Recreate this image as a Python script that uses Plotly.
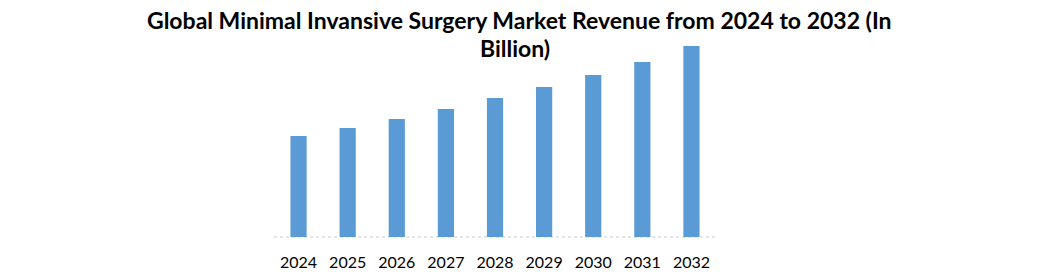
import plotly.graph_objects as go

years = ["2024", "2025", "2026", "2027", "2028", "2029", "2030", "2031", "2032"]
revenue = [50.5, 54.5, 59.0, 64.0, 69.5, 75.0, 81.0, 87.5, 95.5]
title_lines = ["Global Minimal Invansive Surgery Market Revenue from 2024 to 2032 (In", "Billion)"]

fig = go.Figure()
fig.add_trace(go.Bar(
    x=years, y=revenue,
    marker=dict(color="#5B9BD5", line=dict(width=0)),
    width=0.33,
))

fig.update_layout(
    width=1043, height=275,
    margin=dict(l=274, r=1043 - 716, t=37, b=38, autoexpand=False),
    paper_bgcolor="white", plot_bgcolor="white",
    showlegend=False,
    xaxis=dict(
        type="category", automargin=False,
        showline=False,
        ticks="", showgrid=False,
        tickfont=dict(family="Lato", size=16, color="black"),
        ticklabelstandoff=14,
    ),
    yaxis=dict(
        range=[0, 100], visible=False, showgrid=False, zeroline=False,
        automargin=False,
    ),
    shapes=[
        dict(type="line", xref="paper", yref="paper", x0=0, x1=1, y0=0, y1=0,
             line=dict(color="#cccccc", width=1, dash="dot"), layer="below"),
    ],
    annotations=[
        dict(text="<b>" + title_lines[0] + "</b>", xref="paper", yref="paper",
             x=(519 - 274) / 442, y=1 + (37 - 20) / 200, xanchor="center", yanchor="middle",
             showarrow=False, font=dict(family="Lato", size=23, color="black")),
        dict(text="<b>" + title_lines[1] + "</b>", xref="paper", yref="paper",
             x=(515 - 274) / 442, y=1 + (37 - 48) / 200, xanchor="center", yanchor="middle",
             showarrow=False, font=dict(family="Lato", size=23, color="black")),
    ],
)

fig.write_html("out.html")
